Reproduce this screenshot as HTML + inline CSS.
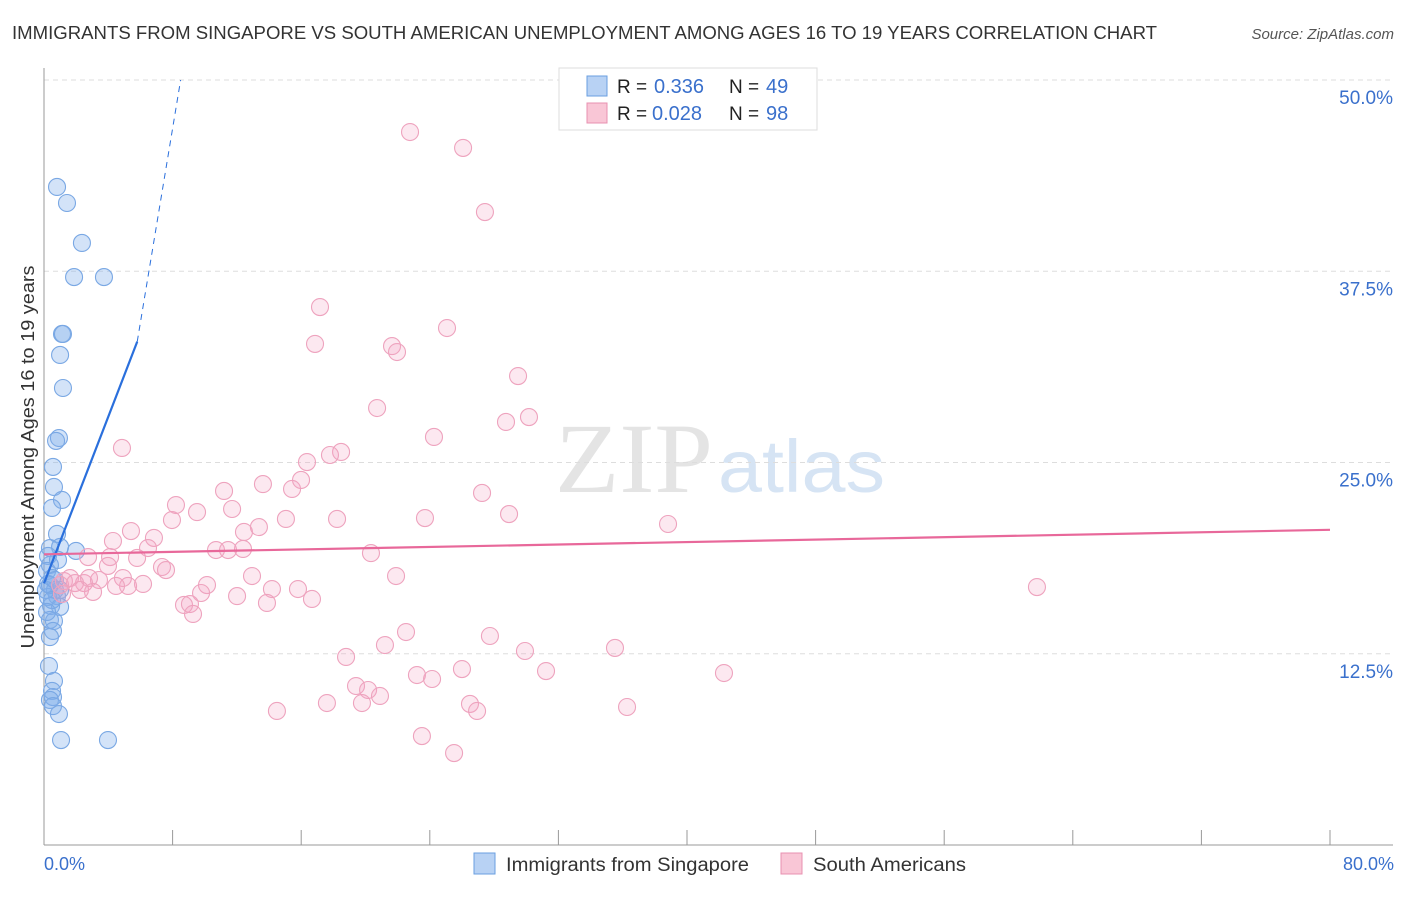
<!DOCTYPE html>
<html><head><meta charset="utf-8"><style>
body{margin:0;background:#fff;width:1406px;height:892px;overflow:hidden;font-family:"Liberation Sans",sans-serif}
</style></head><body>
<svg id="chart" width="1406" height="892" xmlns="http://www.w3.org/2000/svg">
<text x="12" y="39" font-size="18" fill="#333" textLength="1145" lengthAdjust="spacingAndGlyphs">IMMIGRANTS FROM SINGAPORE VS SOUTH AMERICAN UNEMPLOYMENT AMONG AGES 16 TO 19 YEARS CORRELATION CHART</text>
<text x="1394" y="39" font-size="15" fill="#555" font-style="italic" text-anchor="end">Source: ZipAtlas.com</text>
<text x="555" y="492" font-size="100" fill="#e4e4e4" textLength="158" lengthAdjust="spacingAndGlyphs" font-family="Liberation Serif,serif">ZIP</text>
<text x="718" y="492" font-size="74" fill="#d6e4f4" textLength="167" lengthAdjust="spacingAndGlyphs">atlas</text>
<g id="grid"></g>
<g id="axes"></g>
<g id="pts"></g>
<g id="trend"></g>
<text transform="translate(34,457) rotate(-90)" font-size="18" fill="#333" text-anchor="middle" textLength="383" lengthAdjust="spacingAndGlyphs">Unemployment Among Ages 16 to 19 years</text>
<text x="44" y="870" font-size="18" fill="#3a70cc">0.0%</text>
<text x="1394" y="870" font-size="18" fill="#3a70cc" text-anchor="end">80.0%</text>
<g>
<rect x="559" y="68" width="258" height="62" fill="#fff" stroke="#ddd"/>
<rect x="587" y="76" width="20" height="20" fill="#b8d2f4" stroke="#6a9fe0"/>
<rect x="587" y="103" width="20" height="20" fill="#f9c6d6" stroke="#e890b0"/>
<text x="617" y="93" font-size="19" fill="#222">R =</text><text x="654" y="93" font-size="20" fill="#3a70cc">0.336</text>
<text x="729" y="93" font-size="19" fill="#222">N =</text><text x="766" y="93" font-size="20" fill="#3a70cc">49</text>
<text x="617" y="120" font-size="19" fill="#222">R =</text><text x="652" y="120" font-size="20" fill="#3a70cc">0.028</text>
<text x="729" y="120" font-size="19" fill="#222">N =</text><text x="766" y="120" font-size="20" fill="#3a70cc">98</text>
</g>
<g>
<rect x="474" y="853" width="21" height="21" fill="#b8d2f4" stroke="#6a9fe0"/>
<text x="506" y="871" font-size="19" fill="#333" textLength="243" lengthAdjust="spacingAndGlyphs">Immigrants from Singapore</text>
<rect x="781" y="853" width="21" height="21" fill="#f9c6d6" stroke="#e890b0"/>
<text x="813" y="871" font-size="19" fill="#333" textLength="153" lengthAdjust="spacingAndGlyphs">South Americans</text>
</g>
</svg>
<script>
const yTicks=[12.5,25,37.5,50];
const yTickLabels=["12.5%","25.0%","37.5%","50.0%"];
const xTicks=[0,8,16,24,32,40,48,56,64,72,80];
const bluePx=[[57,187],[67,203],[82,243],[74,277],[104,277],[62,334],[63,334],[60,355],[63,388],[59,438],[56,441],[53,467],[54,487],[62,500],[52,508],[57,534],[50,548],[60,547],[76,551],[48,556],[50,565],[47,571],[52,578],[48,584],[55,590],[60,590],[57,596],[48,597],[51,606],[60,607],[50,620],[54,621],[53,631],[50,637],[49,666],[54,681],[52,691],[53,697],[50,700],[53,706],[59,714],[61,740],[108,740],[46,590],[50,585],[55,580],[52,600],[47,612],[58,560]];
const pinkPx=[[410,132],[463,148],[485,212],[320,307],[447,328],[315,344],[392,346],[397,352],[518,376],[377,408],[529,417],[506,422],[434,437],[122,448],[341,452],[330,455],[307,462],[263,484],[292,489],[301,480],[482,493],[224,491],[176,505],[197,512],[232,509],[172,520],[286,519],[337,519],[425,518],[509,514],[668,524],[131,531],[244,532],[259,527],[154,538],[113,541],[148,548],[216,550],[228,550],[243,549],[371,553],[88,557],[110,557],[137,558],[162,567],[166,570],[108,566],[252,576],[396,576],[123,578],[99,580],[84,583],[64,581],[89,578],[143,584],[128,586],[116,586],[207,585],[272,589],[298,589],[237,596],[93,592],[62,594],[201,593],[184,605],[190,604],[267,603],[312,599],[193,614],[1037,587],[406,632],[490,636],[385,645],[525,651],[615,648],[346,657],[462,669],[546,671],[417,675],[432,679],[724,673],[356,686],[368,690],[380,696],[327,703],[362,703],[470,704],[477,711],[627,707],[277,711],[422,736],[454,753],[70,578],[75,583],[80,590],[60,585]];
const blueX=bluePx.map(p=>+((p[0]-44)/16.075).toFixed(2)), blueY=bluePx.map(p=>+((845-p[1])/15.3).toFixed(2));
const pinkX=pinkPx.map(p=>+((p[0]-44)/16.075).toFixed(2)), pinkY=pinkPx.map(p=>+((845-p[1])/15.3).toFixed(2));
const blueTrend=[[0,17.1],[5.8,32.9],[8.5,50]];
const pinkTrend=[[0,19.0],[80,20.6]];
const X=v=>44+v*16.075, Y=v=>845-v*15.3;
const NS="http://www.w3.org/2000/svg";
function mk(tag,attrs,parent){const e=document.createElementNS(NS,tag);for(const k in attrs)e.setAttribute(k,attrs[k]);document.getElementById(parent).appendChild(e);return e;}
yTicks.forEach((t,i)=>{
 const l=mk('line',{x1:44,x2:1393,y1:Y(t),y2:Y(t),stroke:'#ddd','stroke-dasharray':'5,4'},'grid');
 
 
 const tx=mk('text',{x:1393,y:Y(t)+24,'font-size':19,fill:'#3a70cc','text-anchor':'end'},'grid');
 tx.textContent=yTickLabels[i];
 
 
});
const ya=mk('line',{x1:44,x2:44,y1:68,y2:845,stroke:'#999'},'axes');


const xa=mk('line',{x1:44,x2:1393,y1:845,y2:845,stroke:'#999'},'axes');


xTicks.forEach(t=>{const l=mk('line',{x1:X(t),x2:X(t),y1:830,y2:845,stroke:'#999'},'axes');
 
 });
blueX.forEach((x,i)=>{const c=mk('circle',{cx:X(x),cy:Y(blueY[i]),r:8.5,fill:'rgba(130,175,235,0.35)',stroke:'#7aa8e4','stroke-width':1.1},'pts');
 
 });
pinkX.forEach((x,i)=>{const c=mk('circle',{cx:X(x),cy:Y(pinkY[i]),r:8.5,fill:'rgba(245,165,195,0.25)',stroke:'#eea3be','stroke-width':1.1},'pts');
 
 });
const b1=mk('line',{x1:X(blueTrend[0][0]),y1:Y(blueTrend[0][1]),x2:X(blueTrend[1][0]),y2:Y(blueTrend[1][1]),stroke:'#2a6fdc','stroke-width':2.2},'trend');


const b2=mk('line',{x1:X(blueTrend[1][0]),y1:Y(blueTrend[1][1]),x2:X(blueTrend[2][0]),y2:Y(blueTrend[2][1]),stroke:'#2a6fdc','stroke-width':1,'stroke-dasharray':'6,5'},'trend');


const p1=mk('line',{x1:X(pinkTrend[0][0]),y1:Y(pinkTrend[0][1]),x2:X(pinkTrend[1][0]),y2:Y(pinkTrend[1][1]),stroke:'#e8689a','stroke-width':2.2},'trend');


</script>
</body></html>
